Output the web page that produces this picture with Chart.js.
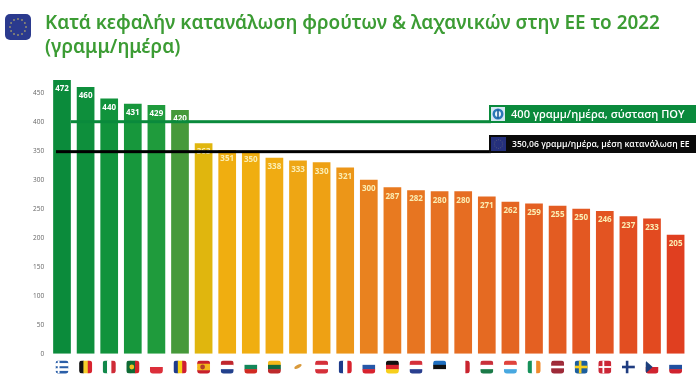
<!DOCTYPE html>
<html>
<head>
<meta charset="utf-8">
<script src="https://cdn.jsdelivr.net/npm/chart.js@4"></script>
<style>
  html, body { margin: 0; padding: 0; background: #fff; }
  #wrap { position: relative; width: 700px; height: 385px; }
  canvas { position: absolute; left: 0; top: 0; }
</style>
</head>
<body>
<div id="wrap"><canvas id="chart" width="700" height="385"></canvas></div>
<script>
const countries = ["GR","BE","IT","PT","PL","RO","ES","NL","BG","LT","CY","AT","FR","SI","DE","HR","EE","MT","HU","LU","IE","LV","SE","DK","FI","CZ","SK"];
const grams = [472,460,440,431,429,420,363,351,350,338,333,330,321,300,287,282,280,280,271,262,259,255,250,246,237,233,205];
const yTicks = [0,50,100,150,200,250,300,350,400,450];
const barColors = ["#0b8b3b","#0e8f3c","#11933c","#17973c","#1f9b3c","#46993a","#e0b60e","#f0ae10","#f0ae10","#f0ab12","#eea614","#eea114",
  "#ec9618","#e9821f","#e87a20","#e77521","#e67122","#e66d22","#e56a22","#e46522","#e46022","#e35c22","#e35822","#e35422","#e24e21","#e24a20","#e03f20"];
const whoTarget = 400;
const euAverage = 350.06;
const titleLines = ["Κατά κεφαλήν κατανάλωση φρούτων & λαχανικών στην ΕΕ το 2022", "(γραμμ/ημέρα)"];
const whoText = "400 γραμμ/ημέρα, σύσταση ΠΟΥ";
const euText = "350,06 γραμμ/ημέρα, μέση κατανάλωση ΕΕ";

// h = horizontal stripes, v = vertical stripes
const flags = {
  GR: ["h","#2b5fa8","#fff","#2b5fa8","#fff","#2b5fa8"],
  BE: ["v","#111","#f6cf2a","#d8232f"],
  IT: ["v","#12894a","#fff","#cf2b37"],
  PT: ["v","#0f6b35","#0f6b35","#d3222a"],
  PL: ["h","#fff","#dc2f3a"],
  RO: ["v","#1f3c8c","#f7d112","#cf1f30"],
  ES: ["h","#c8202c","#f4b81c","#f4b81c","#c8202c"],
  NL: ["h","#c1272d","#fff","#22408c"],
  BG: ["h","#fff","#13875a","#d12a22"],
  LT: ["h","#f5b91a","#11693f","#be2a2c"],
  CY: ["h","#fff"],
  AT: ["h","#d5303a","#fff","#d5303a"],
  FR: ["v","#1d3a8a","#fff","#d8232f"],
  SI: ["h","#fff","#2657a8","#d8232f"],
  DE: ["h","#111","#d8232f","#f7cf1c"],
  HR: ["h","#d5303a","#fff","#2a3f8f"],
  EE: ["h","#1f6fc0","#111","#fff"],
  MT: ["v","#fff","#fff","#c9242f"],
  HU: ["h","#c9303a","#fff","#1b7a48"],
  LU: ["h","#e0433c","#fff","#48a8e0"],
  IE: ["v","#16915a","#fff","#f08a2c"],
  LV: ["h","#9e2a38","#9e2a38","#fff","#9e2a38","#9e2a38"],
  SE: ["h","#1c5f9e"],
  DK: ["h","#cc2636"],
  FI: ["h","#fff"],
  CZ: ["h","#fff","#d0232f"],
  SK: ["h","#fff","#2150a0","#d0232f"]
};
// crosses laid over the stripes: [colour, vertical bar x, bar width, horizontal bar y, bar height]
const crosses = {
  GR: ["#fff",0.17,0.14,0.3,0.14],
  SE: ["#f7cf1c",0.32,0.2,0.4,0.2],
  DK: ["#fff",0.32,0.14,0.43,0.14],
  FI: ["#1f3c80",0.3,0.2,0.4,0.2]
};

function roundBox(ctx, x, y, w, h, r) {
  ctx.beginPath();
  ctx.roundRect(x, y, w, h, r);
}

function drawFlag(ctx, code, cx, cy) {
  const w = 13, h = 13, x = cx - w / 2, y = cy - h / 2;
  const f = flags[code];
  const bands = f.slice(1);
  ctx.save();
  ctx.filter = "blur(0.4px)";
  roundBox(ctx, x, y, w, h, 3);
  ctx.clip();
  bands.forEach((c, i) => {
    ctx.fillStyle = c;
    if (f[0] === "h") ctx.fillRect(x, y + i * h / bands.length, w, h / bands.length + 0.5);
    else ctx.fillRect(x + i * w / bands.length, y, w / bands.length + 0.5, h);
  });
  const cr = crosses[code];
  if (cr) {
    ctx.fillStyle = cr[0];
    ctx.fillRect(x + cr[1] * w, y, cr[2] * w, h);
    ctx.fillRect(x, y + cr[3] * h, w, cr[4] * h);
  }
  if (code === "CZ") {
    ctx.fillStyle = "#1d3f7c";
    ctx.beginPath();
    ctx.moveTo(x, y); ctx.lineTo(x + w * 0.55, cy); ctx.lineTo(x, y + h);
    ctx.fill();
  }
  if (code === "CY") {
    ctx.fillStyle = "#d99a3c";
    ctx.beginPath();
    ctx.ellipse(cx, cy - 0.5, 4, 1.6, -0.5, 0, Math.PI * 2);
    ctx.fill();
  }
  if (code === "ES" || code === "PT") {
    ctx.fillStyle = code === "ES" ? "#b0402a" : "#f4c020";
    ctx.beginPath();
    ctx.arc(cx - 1, cy, 2.4, 0, Math.PI * 2);
    ctx.fill();
  }
  ctx.restore();
}

function drawStars(ctx, cx, cy, r, size, color) {
  ctx.fillStyle = color;
  for (let i = 0; i < 12; i++) {
    const a = i * Math.PI / 6;
    ctx.beginPath();
    ctx.arc(cx + r * Math.cos(a), cy + r * Math.sin(a), size, 0, Math.PI * 2);
    ctx.fill();
  }
}

const valueLabels = {
  id: "valueLabels",
  afterDatasetsDraw(chart) {
    const ctx = chart.ctx;
    const meta = chart.getDatasetMeta(0);
    ctx.save();
    ctx.font = "bold 8px 'Open Sans'";
    ctx.textAlign = "center";
    ctx.textBaseline = "middle";
    meta.data.forEach((bar, i) => {
      ctx.fillStyle = i < 6 ? "#ffffff" : "#fbeeb4";
      ctx.fillText(grams[i], bar.x, bar.y + 9);
    });
    ctx.restore();
  }
};

const overlays = {
  id: "overlays",
  afterDraw(chart) {
    const ctx = chart.ctx;
    const yScale = chart.scales.y;
    const xScale = chart.scales.x;
    const greenY = yScale.getPixelForValue(whoTarget);
    const blackY = yScale.getPixelForValue(euAverage);
    ctx.save();

    // reference lines run into their banners
    ctx.fillStyle = "#0a8a3c";
    ctx.fillRect(71, greenY - 1.5, 420, 3);
    ctx.fillStyle = "#000";
    ctx.fillRect(56, blackY - 0.5, 435, 3);

    ctx.fillStyle = "#0a8a3c";
    ctx.fillRect(489, 105, 207, 18);
    ctx.fillStyle = "#0a0a0a";
    ctx.fillRect(489, 135, 207, 18);

    // WHO icon
    ctx.fillStyle = "#d6e8f4";
    ctx.fillRect(491, 107, 14, 14);
    ctx.fillStyle = "#2a78b8";
    ctx.beginPath();
    ctx.arc(498, 114, 5.5, 0, Math.PI * 2);
    ctx.fill();
    ctx.fillStyle = "#eaf4fa";
    ctx.beginPath();
    ctx.arc(498, 114, 3, 0, Math.PI * 2);
    ctx.fill();
    ctx.fillStyle = "#1d5c9a";
    ctx.fillRect(497.2, 109.5, 1.6, 9);

    // EU icon in the black banner
    ctx.fillStyle = "#25307c";
    ctx.fillRect(491, 137, 15, 14);
    drawStars(ctx, 498.5, 144, 4.2, 0.5, "#5a5f78");

    ctx.textBaseline = "middle";
    ctx.textAlign = "left";
    ctx.fillStyle = "#fff";
    ctx.font = "600 11.1px 'Open Sans'";
    ctx.fillText(whoText, 511, 114.5);
    ctx.font = "600 8.6px 'Open Sans'";
    ctx.fillText(euText, 512, 144.5);

    // title and logo
    ctx.fillStyle = "#2b3a8e";
    roundBox(ctx, 5, 14, 26, 26, 5);
    ctx.fill();
    drawStars(ctx, 18, 27, 8, 0.8, "#d8c860");
    ctx.fillStyle = "#3c9c34";
    ctx.font = "600 18.9px 'Noto Sans'";
    ctx.textBaseline = "alphabetic";
    ctx.fillText(titleLines[0], 45, 29);
    ctx.fillText(titleLines[1], 45, 53);

    // flags sit under each category
    countries.forEach((code, i) => drawFlag(ctx, code, xScale.getPixelForValue(i), 367));
    ctx.restore();
  }
};

new Chart(document.getElementById("chart").getContext("2d"), {
  type: "bar",
  data: {
    labels: countries,
    datasets: [{
      data: grams,
      backgroundColor: barColors,
      borderWidth: 0,
      barPercentage: 0.75,
      categoryPercentage: 1
    }]
  },
  options: {
    responsive: false,
    animation: false,
    layout: { padding: { top: 63.7, right: 12.6, left: 0, bottom: 0 } },
    plugins: { legend: { display: false }, tooltip: { enabled: false }, title: { display: false } },
    scales: {
      x: {
        grid: { display: false },
        border: { display: false },
        ticks: { display: false },
        afterFit(axis) { axis.height = 31.3; }
      },
      y: {
        min: 0,
        max: 500,
        grid: { display: false, drawTicks: false },
        border: { display: false },
        afterBuildTicks(axis) { axis.ticks = yTicks.map(v => ({ value: v })); },
        afterFit(axis) { axis.width = 50.2; },
        ticks: {
          padding: 6,
          color: "#666",
          font: { family: "'Open Sans'", size: 6.5 }
        }
      }
    }
  },
  plugins: [valueLabels, overlays]
});
</script>
</body>
</html>
